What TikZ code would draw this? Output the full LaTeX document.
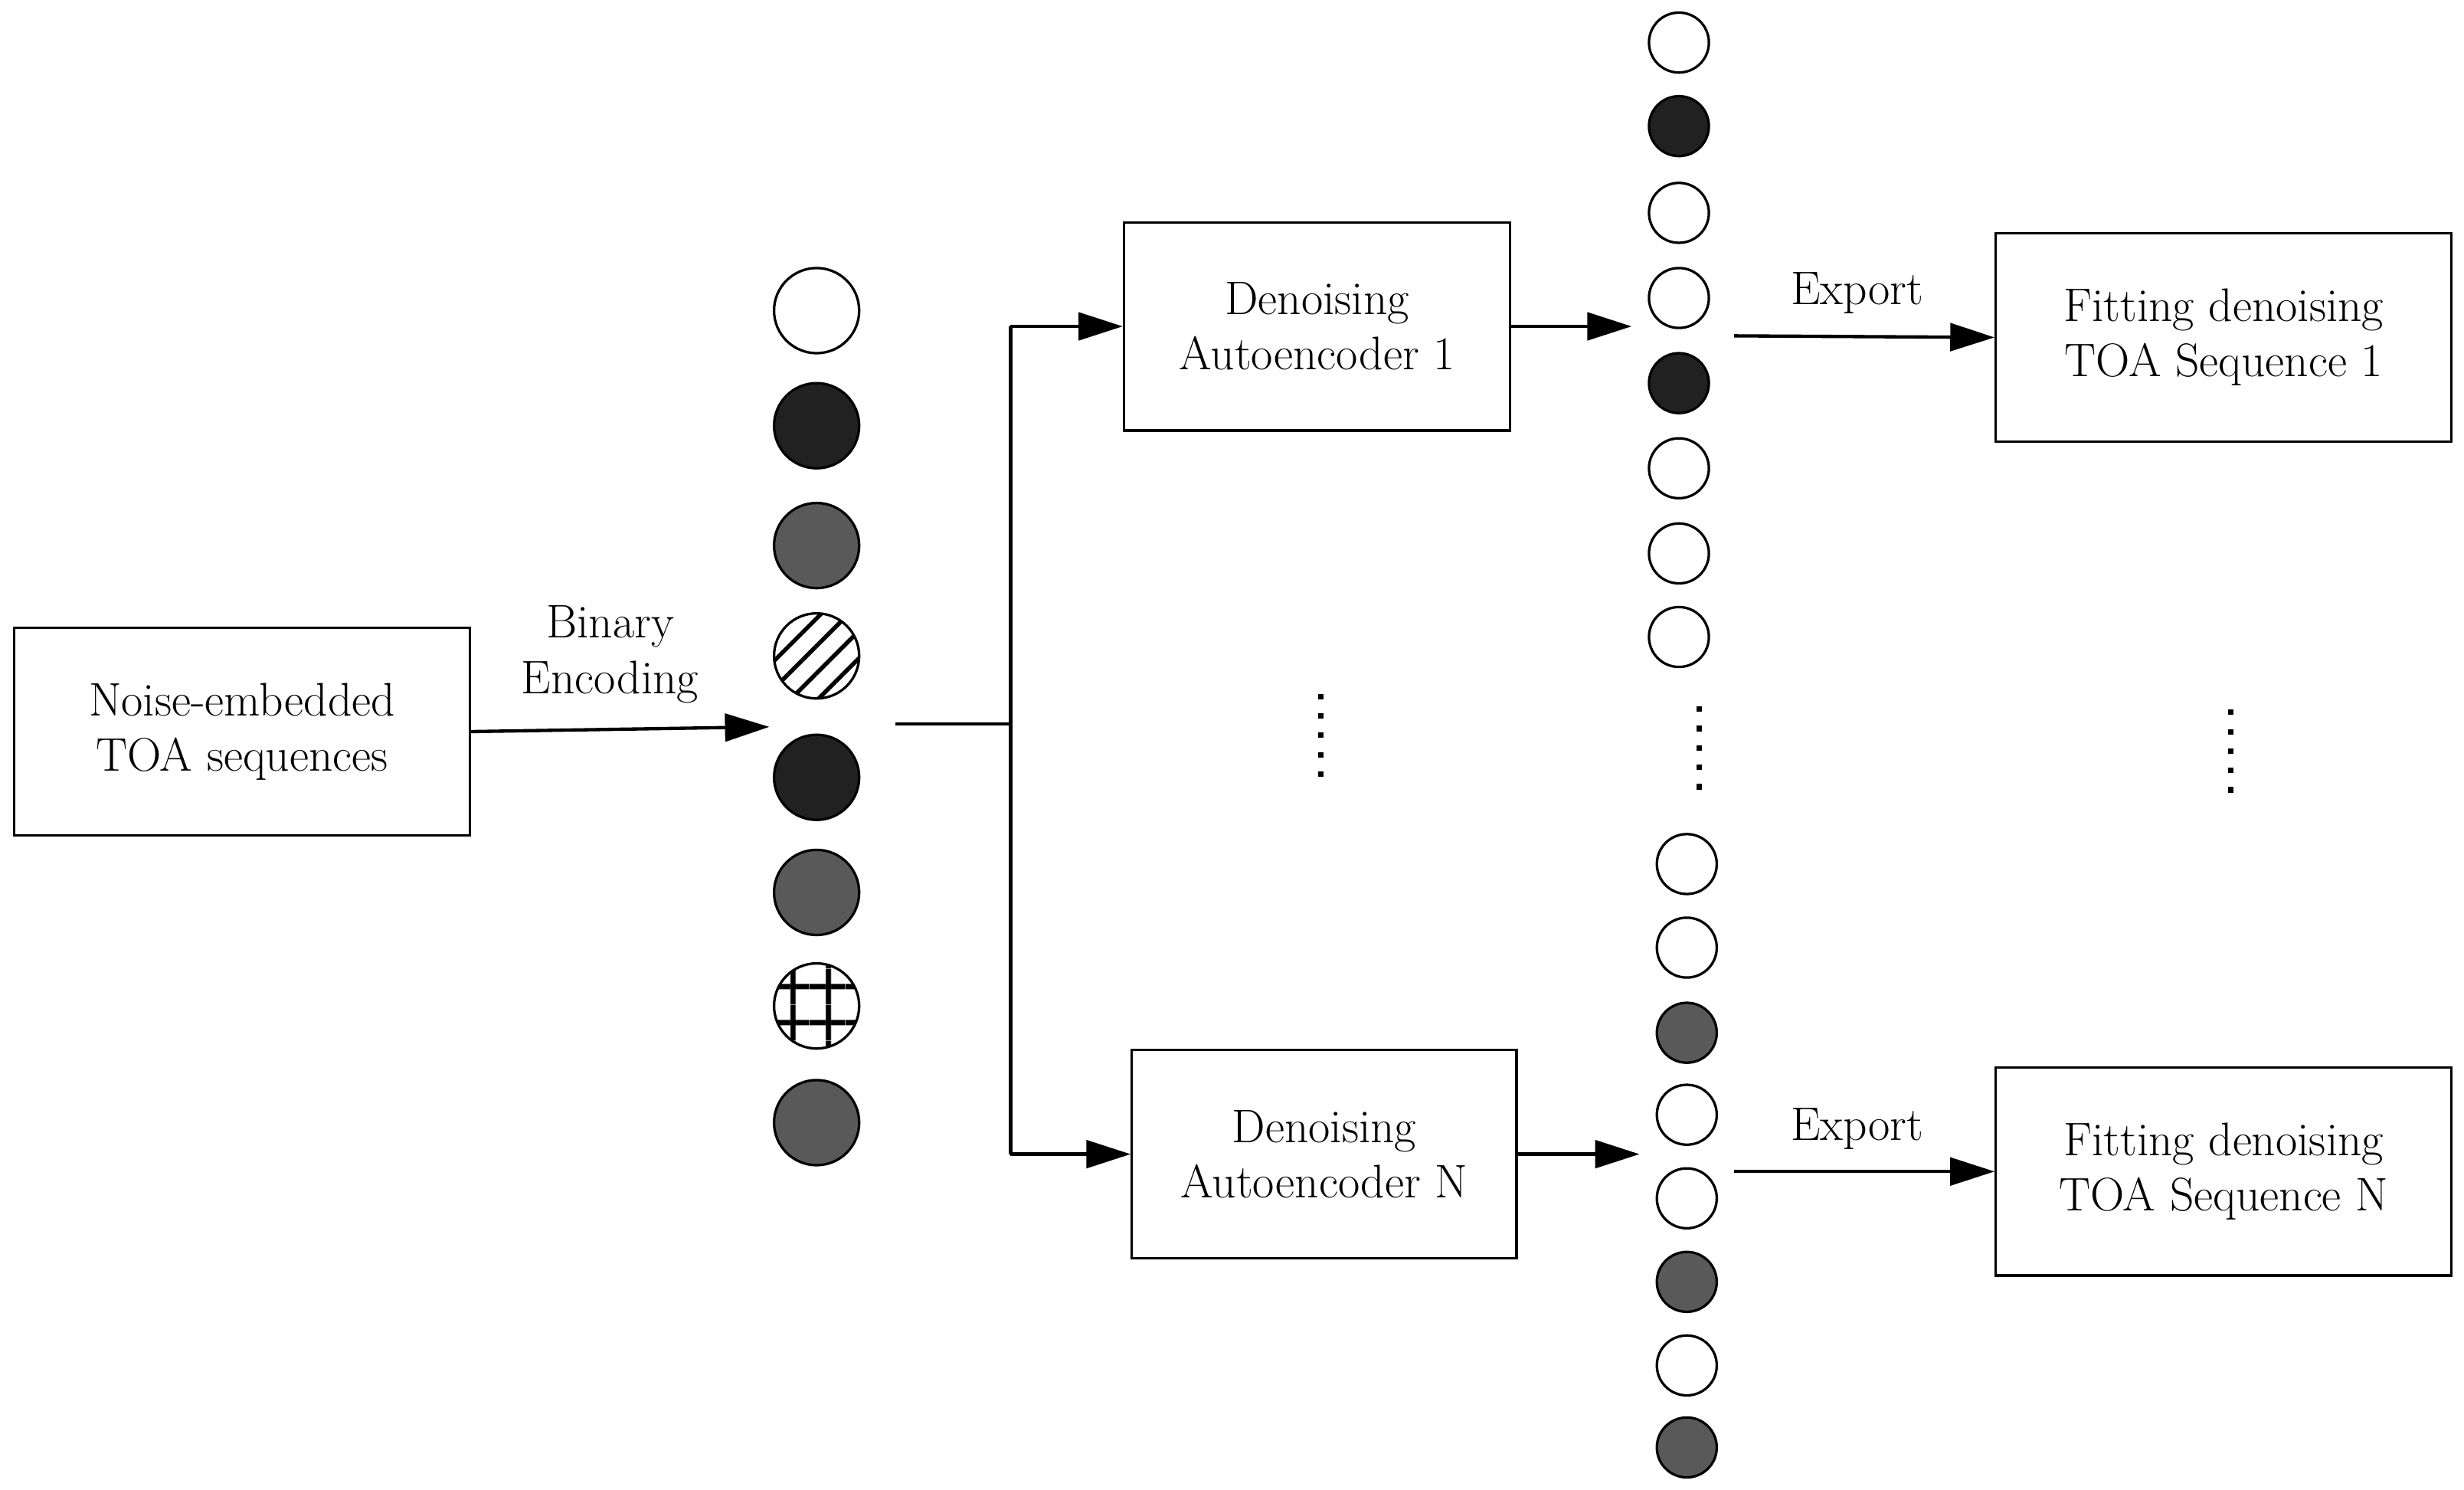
\documentclass[tikz,border=0pt]{standalone}
\usetikzlibrary{arrows.meta,patterns.meta}
\begin{document}
\begin{tikzpicture}[x=0.02cm,y=-0.02cm,
 box/.style={draw,line width=0.9pt,align=center,font=\fontsize{17}{20}\selectfont},
 lbl/.style={align=center,font=\fontsize{17}{20}\selectfont},
 arr/.style={line width=1.2pt,-{Triangle[length=16pt,width=10pt]}},
 ln/.style={line width=1.2pt},
 c/.style={circle,draw,line width=0.9pt,minimum size=54*0.02cm,inner sep=0pt},
 s/.style={circle,draw,line width=0.9pt,minimum size=38*0.02cm,inner sep=0pt},
 wh/.style={fill=white},
 dk/.style={fill=black!87},
 gr/.style={fill=black!65},
 hx/.style={pattern={Lines[angle=45,distance=7pt,line width=1.5pt]}},
 gd/.style={pattern={Lines[angle=0,distance=13pt,line width=2pt]},postaction={pattern={Lines[angle=90,distance=13pt,line width=2pt]}}},
 dots/.style={line width=2pt,dash pattern=on 2pt off 5pt}]
\useasboundingbox (0,0) rectangle (1563,945);
\node[box,minimum width=289*0.02cm,minimum height=132*0.02cm] (in) at (153.5,464) {Noise-embedded\\TOA sequences};
\foreach \y/\s [count=\i] in {197/wh,270/dk,346/gr,416/hx,493/dk,566/gr,638/gd,712/gr}
  \node[c,\s] (l\i) at (518,\y) {};
\coordinate (enc) at (488,461);
\draw[arr] (in.east) -- (enc);
\node[lbl] at (387,415) {Binary\\Encoding};
\coordinate (sp) at (568,459);
\coordinate (j) at (641,459);
\node[box,minimum width=245*0.02cm,minimum height=132*0.02cm] (d1) at (835.5,207) {Denoising\\Autoencoder 1};
\node[box,minimum width=244*0.02cm,minimum height=132*0.02cm] (dn) at (840,732) {Denoising\\Autoencoder N};
\draw[ln] (sp) -- (j);
\draw[ln] (641,207) -- (641,732);
\draw[arr] (641,207) -- (d1.west);
\draw[arr] (641,732) -- (dn.west);
\foreach \y/\s [count=\i] in {27/wh,80/dk,135/wh,189/wh,243/dk,297/wh,351/wh,404/wh}
  \node[s,\s] (r\i) at (1065,\y) {};
\foreach \y/\s [count=\i] in {548/wh,601/wh,655/gr,707/wh,760/wh,813/gr,866/wh,918/gr}
  \node[s,\s] (q\i) at (1070,\y) {};
\coordinate (a1) at (1035,207);
\coordinate (an) at (1040,732);
\draw[arr] (d1.east) -- (a1);
\draw[arr] (dn.east) -- (an);
\node[box,minimum width=289*0.02cm,minimum height=132*0.02cm] (f1) at (1410.5,214) {Fitting denoising\\TOA Sequence 1};
\node[box,minimum width=289*0.02cm,minimum height=132*0.02cm] (fn) at (1410.5,743) {Fitting denoising\\TOA Sequence N};
\coordinate (e1) at (1100,213);
\coordinate (en) at (1100,743);
\draw[arr] (e1) -- (f1.west);
\draw[arr] (en) -- (fn.west);
\node[lbl] at (1178,186) {Export};
\node[lbl] at (1178,716) {Export};
\draw[dots] (838,440) -- (838,497);
\draw[dots] (1078,448) -- (1078,503);
\draw[dots] (1415,450) -- (1415,505);
\end{tikzpicture}
\end{document}
